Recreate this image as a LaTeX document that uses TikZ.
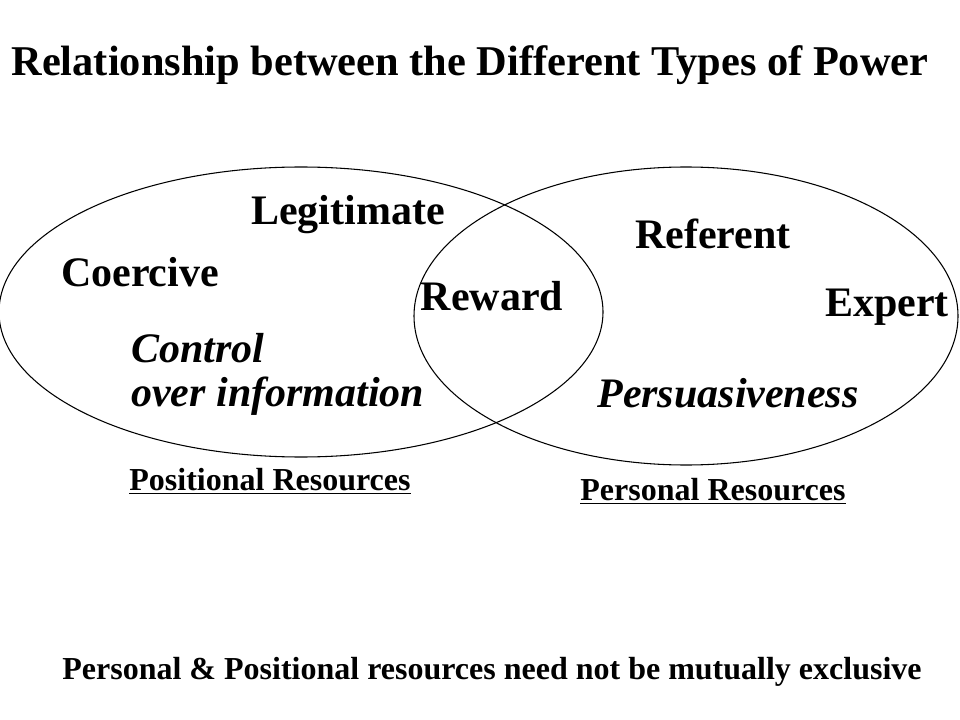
\documentclass[tikz,border=0pt]{standalone}
\usepackage{fontspec}
\setmainfont{Liberation Serif}
\begin{document}
\begin{tikzpicture}[x=0.75pt,y=-0.75pt,
  big/.style={font=\fontsize{31.5}{36}\selectfont\bfseries, inner sep=0pt},
  bigit/.style={font=\fontsize{31.5}{36}\selectfont\bfseries\itshape, inner sep=0pt},
  small/.style={font=\fontsize{24}{28}\selectfont\bfseries, inner sep=0pt},
  ring/.style={draw=black, line width=0.8pt}]
\useasboundingbox (0,0) rectangle (960,720);
\node[font=\fontsize{31.8}{36}\selectfont\bfseries, inner sep=0pt] (title) at (470,65) {Relationship between the Different Types of Power};
\draw[ring] (301,312) ellipse [x radius=302, y radius=145];
\draw[ring] (686,316) ellipse [x radius=272, y radius=149];
\node[big] (leg) at (348,215) {Legitimate};
\node[big] (ref) at (713,234) {Referent};
\node[big] (coe) at (140,272) {Coercive};
\node[big] (rew) at (492,296) {Reward};
\node[big] (exp) at (887,307) {Expert};
\node[bigit, anchor=west] (ctl) at (131,348) {Control};
\node[bigit, anchor=west] (ovi) at (131,396) {over information};
\node[bigit] (per) at (728,393) {Persuasiveness};
\node[small] (pos) at (270,481) {\underline{Positional Resources}};
\node[small] (pers) at (713,491) {\underline{Personal Resources}};
\node[small] (foot) at (492,672) {Personal \& Positional resources need not be mutually exclusive};
\end{tikzpicture}
\end{document}
